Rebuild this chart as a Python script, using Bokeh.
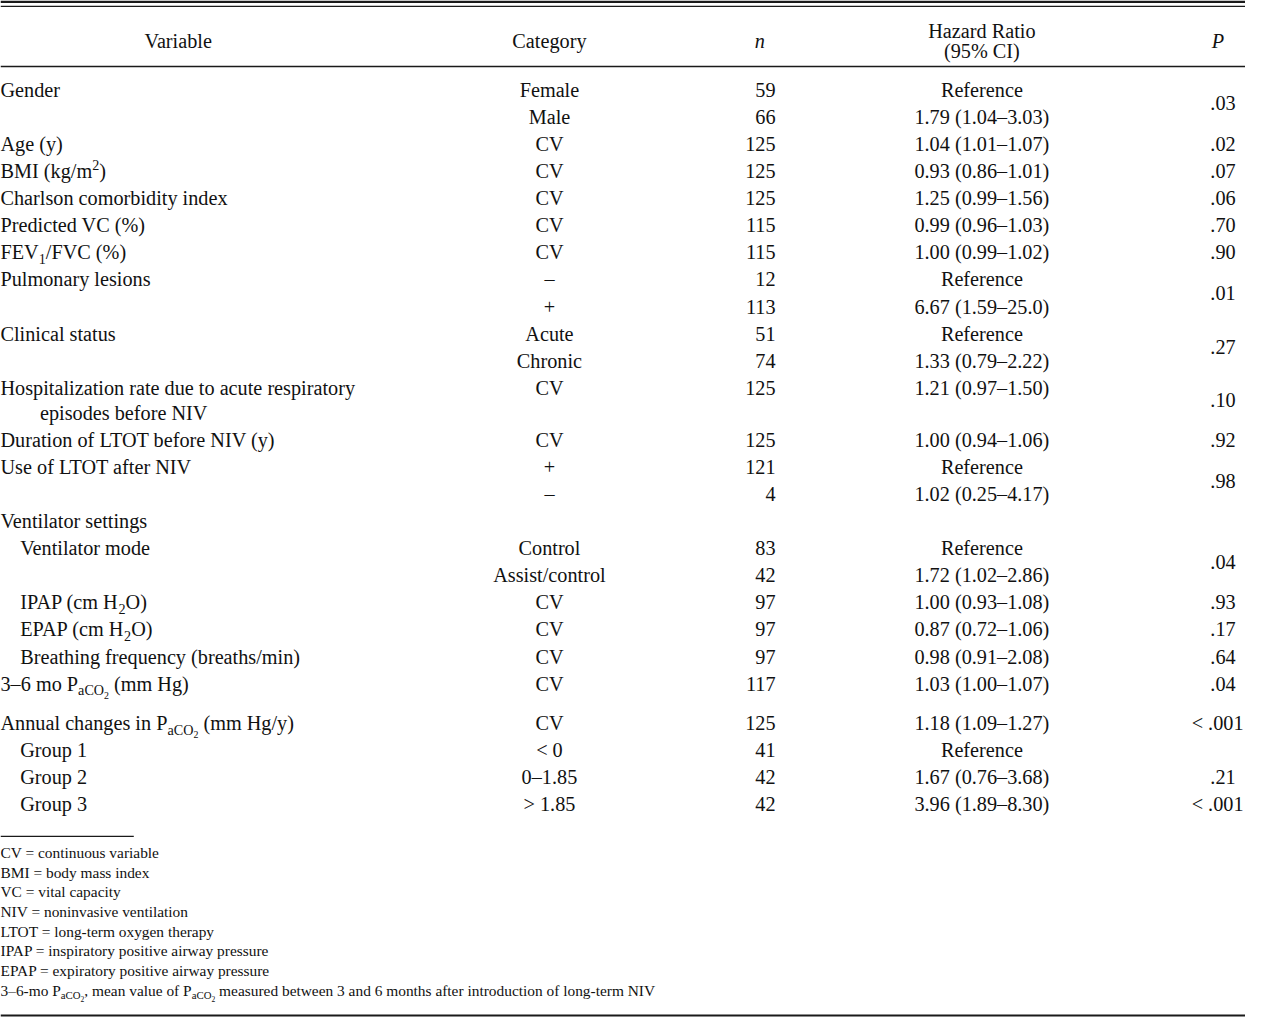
import re
from bokeh.plotting import figure
from bokeh.models import ColumnDataSource, Range1d
from bokeh.core.properties import value
from bokeh.embed import file_html
from bokeh.resources import INLINE

# ---------------- data ----------------
headers = ["Variable", "Category", "n", "Hazard Ratio\n(95% CI)", "P"]

variables = [
    "Gender", "", "Age (y)", "BMI (kg/m<sup>2</sup>)", "Charlson comorbidity index",
    "Predicted VC (%)", "FEV<sub>1</sub>/FVC (%)", "Pulmonary lesions", "",
    "Clinical status", "",
    "Hospitalization rate due to acute respiratory\nepisodes before NIV",
    "Duration of LTOT before NIV (y)", "Use of LTOT after NIV", "",
    "Ventilator settings", "Ventilator mode", "", "IPAP (cm H<sub>2</sub>O)",
    "EPAP (cm H<sub>2</sub>O)", "Breathing frequency (breaths/min)",
    "3–6 mo P<sub>aCO<sub>2</sub></sub> (mm Hg)",
    "Annual changes in P<sub>aCO<sub>2</sub></sub> (mm Hg/y)",
    "Group 1", "Group 2", "Group 3",
]
level = [0, 0, 0, 0, 0, 0, 0, 0, 0, 0, 0, 0, 0, 0, 0,
         0, 1, 1, 1, 1, 1, 0, 0, 1, 1, 1]
block = [0] * 22 + [1] * 4

categories = [
    "Female", "Male", "CV", "CV", "CV", "CV", "CV", "–", "+", "Acute", "Chronic",
    "CV", "CV", "+", "–", "", "Control", "Assist/control", "CV", "CV", "CV", "CV",
    "CV", "< 0", "0–1.85", "> 1.85",
]
n_values = [
    "59", "66", "125", "125", "125", "115", "115", "12", "113", "51", "74",
    "125", "125", "121", "4", "", "83", "42", "97", "97", "97", "117",
    "125", "41", "42", "42",
]
hazard_ratios = [
    "Reference", "1.79 (1.04–3.03)", "1.04 (1.01–1.07)", "0.93 (0.86–1.01)",
    "1.25 (0.99–1.56)", "0.99 (0.96–1.03)", "1.00 (0.99–1.02)", "Reference",
    "6.67 (1.59–25.0)", "Reference", "1.33 (0.79–2.22)", "1.21 (0.97–1.50)",
    "1.00 (0.94–1.06)", "Reference", "1.02 (0.25–4.17)", "", "Reference",
    "1.72 (1.02–2.86)", "1.00 (0.93–1.08)", "0.87 (0.72–1.06)", "0.98 (0.91–2.08)",
    "1.03 (1.00–1.07)", "1.18 (1.09–1.27)", "Reference", "1.67 (0.76–3.68)",
    "3.96 (1.89–8.30)",
]
# (first row, number of rows spanned, P value)
p_values = [
    (0, 2, ".03"), (2, 1, ".02"), (3, 1, ".07"), (4, 1, ".06"), (5, 1, ".70"),
    (6, 1, ".90"), (7, 2, ".01"), (9, 2, ".27"), (11, 1, ".10"), (12, 1, ".92"),
    (13, 2, ".98"), (16, 2, ".04"), (18, 1, ".93"), (19, 1, ".17"), (20, 1, ".64"),
    (21, 1, ".04"), (22, 1, "< .001"), (24, 1, ".21"), (25, 1, "< .001"),
]
footnotes = [
    "CV = continuous variable",
    "BMI = body mass index",
    "VC = vital capacity",
    "NIV = noninvasive ventilation",
    "LTOT = long-term oxygen therapy",
    "IPAP = inspiratory positive airway pressure",
    "EPAP = expiratory positive airway pressure",
    "3–6-mo P<sub>aCO<sub>2</sub></sub>, mean value of P<sub>aCO<sub>2</sub></sub> "
    "measured between 3 and 6 months after introduction of long-term NIV",
]

# ---------------- layout ----------------
W_REF, H_REF = 1261, 1033
PW, PH = 1245, 1017
K = PW / W_REF
FONT = "Liberation Serif"
F = 20.5
FN = 15.6
INK = "#111111"
BASE_FIX = 0.30  # renderer places alphabetic baseline slightly low

AFM = {' ': 250, '(': 333, ')': 333, ',': 250, '-': 333, '.': 250, '/': 278,
       '=': 564, '%': 833, '<': 564, '>': 564, '+': 564, '–': 500}
for ch in '0123456789':
    AFM[ch] = 500
AFM.update(dict(zip("ABCDEFGHIJKLMNOPQRSTUVWXYZ",
                    [722, 667, 667, 722, 611, 556, 722, 722, 333, 389, 722, 611, 889,
                     722, 722, 556, 722, 667, 556, 611, 722, 722, 944, 722, 722, 611])))
AFM.update(dict(zip("abcdefghijklmnopqrstuvwxyz",
                    [444, 500, 444, 500, 444, 333, 500, 500, 278, 278, 500, 278, 778,
                     500, 500, 500, 500, 333, 389, 278, 500, 500, 722, 500, 500, 444])))
KERN = {('P', 'A'): -92}


def text_width(s, size):
    w = sum(AFM.get(c, 500) for c in s)
    w += sum(KERN.get((a, b), 0) for a, b in zip(s, s[1:]))
    return w * size / 1000.0


def parse(s):
    segs, stack = [], []
    for t in re.split(r'(<sub>|</sub>|<sup>|</sup>)', s):
        if t in ('<sub>', '<sup>'):
            stack.append(t[1:4])
        elif t in ('</sub>', '</sup>'):
            stack.pop()
        elif t:
            segs.append((t, tuple(stack)))
    return segs


def px(sz):
    return f"{sz * K:.2f}px"


left = dict(x=[], y=[], text=[], size=[])


def add_rich(x0, y, s, size):
    x = x0
    for txt, stack in parse(s):
        sz, dy = size, 0.0
        for kind in stack:
            dy += 0.25 * sz if kind == 'sub' else -0.40 * sz
            sz *= 0.7
        lead = len(txt) - len(txt.lstrip(' '))
        x += lead * AFM[' '] * sz / 1000.0
        txt = txt.lstrip(' ')
        left['x'].append(x)
        left['y'].append(y + dy - BASE_FIX * sz)
        left['text'].append(txt)
        left['size'].append(px(sz))
        x += text_width(txt, sz)


# row baselines
FIRST = 97.0
PITCH = 27.5
WRAP = 25.5
GAP = 12.5
row_y, row_last = [], []
y = FIRST
for i, v in enumerate(variables):
    if i > 0:
        y += PITCH
        if block[i] != block[i - 1]:
            y += GAP
    row_y.append(y)
    y += (v.count("\n")) * WRAP
    row_last.append(y)

X_VAR, INDENT, WRAP_INDENT = 0.0, 20.0, 40.0
X_CAT, X_N, X_HR, X_P, X_P_LT = 556.0, 785.0, 994.0, 1251.0, 1259.0
FIX = BASE_FIX * F

for i, v in enumerate(variables):
    if not v:
        continue
    lines = v.split("\n")
    x0 = X_VAR + INDENT * level[i]
    add_rich(x0, row_y[i], lines[0], F)
    for j, ln in enumerate(lines[1:], start=1):
        add_rich(x0 + WRAP_INDENT, row_y[i] + j * WRAP, ln, F)

for j, fn in enumerate(footnotes):
    add_rich(0.0, 870.0 + 20.0 * j, fn, FN)

center = dict(x=[], y=[], text=[])
right = dict(x=[], y=[], text=[])
for i in range(len(variables)):
    if categories[i]:
        center['x'].append(X_CAT); center['y'].append(row_y[i] - FIX); center['text'].append(categories[i])
    if hazard_ratios[i]:
        center['x'].append(X_HR); center['y'].append(row_y[i] - FIX); center['text'].append(hazard_ratios[i])
    if n_values[i]:
        right['x'].append(X_N); right['y'].append(row_y[i] - FIX); right['text'].append(n_values[i])
for first, span, pv in p_values:
    yy = (row_y[first] + row_last[first + span - 1]) / 2.0
    right['x'].append(X_P_LT if pv.startswith("<") else X_P)
    right['y'].append(yy - FIX)
    right['text'].append(pv)

# headers
hr_lines = headers[3].split("\n")
hdr_norm = dict(x=[180.0, X_CAT, X_HR, X_HR],
                y=[47.0 - FIX, 47.0 - FIX, 37.0 - FIX, 57.0 - FIX],
                text=[headers[0], headers[1]] + hr_lines)
hdr_ital = dict(x=[769.0, 1233.0], y=[47.0 - FIX, 47.0 - FIX], text=[headers[2], headers[4]])

# ---------------- figure ----------------
p = figure(width=PW, height=PH, x_range=Range1d(0, W_REF), y_range=Range1d(H_REF, 0),
           x_axis_type=None, y_axis_type=None, toolbar_location=None,
           output_backend="svg", min_border=0, outline_line_color=None,
           background_fill_color="white", border_fill_color="white")
p.xgrid.visible = False
p.ygrid.visible = False

# rules
rules = dict(x0=[0, 0, 0, 0, 0], x1=[W_REF, W_REF, W_REF, 135, W_REF],
             y0=[1.3, 6.0, 67.0, 849.0, 1031.0], y1=[1.3, 6.0, 67.0, 849.0, 1031.0],
             w=[2.6, 1.3, 1.5, 1.2, 2.0])
p.segment(x0='x0', y0='y0', x1='x1', y1='y1', line_width='w', line_color="#1a1a1a",
          source=ColumnDataSource(rules))

p.text(x='x', y='y', text='text', source=ColumnDataSource(left), text_font=value(FONT),
       text_font_size='size', text_align="left", text_baseline="alphabetic", text_color=INK)
p.text(x='x', y='y', text='text', source=ColumnDataSource(center), text_font=value(FONT),
       text_font_size=px(F), text_align="center", text_baseline="alphabetic", text_color=INK)
p.text(x='x', y='y', text='text', source=ColumnDataSource(right), text_font=value(FONT),
       text_font_size=px(F), text_align="right", text_baseline="alphabetic", text_color=INK)
p.text(x='x', y='y', text='text', source=ColumnDataSource(hdr_norm), text_font=value(FONT),
       text_font_size=px(F), text_align="center", text_baseline="alphabetic", text_color=INK)
p.text(x='x', y='y', text='text', source=ColumnDataSource(hdr_ital), text_font=value(FONT),
       text_font_size=px(F), text_font_style="italic", text_align="center",
       text_baseline="alphabetic", text_color=INK)

open("out.html", "w").write(file_html(p, INLINE))
